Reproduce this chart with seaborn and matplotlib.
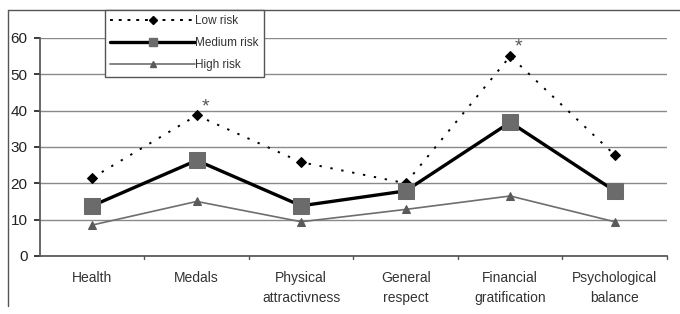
import matplotlib
matplotlib.use("Agg")
import matplotlib.pyplot as plt
import seaborn as sns
import pandas as pd
from matplotlib.lines import Line2D

categories = ["Health", "Medals", "Physical\nattractivness", "General\nrespect",
              "Financial\ngratification", "Psychological\nbalance"]
low_risk = [21.5, 38.7, 25.8, 20.0, 55.0, 27.8]
medium_risk = [13.8, 26.3, 13.8, 17.9, 36.8, 17.9]
high_risk = [8.5, 15.0, 9.4, 12.8, 16.5, 9.4]
series_names = ["Low risk", "Medium risk", "High risk"]
star_positions = [1, 4]
star_values = [41.0, 57.5]

sns.set_theme(style="white")
plt.rcParams['font.family'] = ['Liberation Sans', 'DejaVu Sans']

df = pd.DataFrame({
    "x": list(range(len(categories))) * 3,
    "value": low_risk + medium_risk + high_risk,
    "series": [series_names[0]] * 6 + [series_names[1]] * 6 + [series_names[2]] * 6,
})

fig = plt.figure(figsize=(6.8, 3.14), dpi=100)
ax = fig.add_axes([0.0588, 0.185, 0.922, 0.694])

styles = {
    "Low risk": dict(color="black", lw=1.4, ls=(0, (1.2, 4.5)), marker="D", ms=5,
                     mfc="black", mec="black"),
    "Medium risk": dict(color="black", lw=2.4, ls="-", marker="s", ms=11,
                        mfc="#6b6b6b", mec="#6b6b6b"),
    "High risk": dict(color="#6e6e6e", lw=1.2, ls="-", marker="^", ms=6,
                      mfc="#5a5a5a", mec="#5a5a5a"),
}
for name in series_names:
    sub = df[df["series"] == name]
    st = styles[name]
    sns.lineplot(data=sub, x="x", y="value", ax=ax, color=st["color"], lw=st["lw"],
                 linestyle=st["ls"], marker=st["marker"], markersize=st["ms"],
                 markerfacecolor=st["mfc"], markeredgecolor=st["mec"], label=name,
                 legend=False, zorder=3)

for xp, yv in zip(star_positions, star_values):
    ax.text(xp + 0.08, yv, "*", ha="center", va="center", fontsize=14, color="#555555")

ax.set_xlim(-0.5, 5.5)
ax.set_ylim(0, 60)
ax.set_yticks(range(0, 61, 10))
ax.set_xticks(range(len(categories)))
ax.set_xticklabels(categories, fontsize=10, color="#333333", linespacing=1.5)
ax.tick_params(axis="y", labelsize=11, colors="#222222", length=4, direction="out",
               left=True, pad=5)
ax.tick_params(axis="x", length=0, pad=11)
ax.set_xlabel("")
ax.set_ylabel("")
for b in [0.5, 1.5, 2.5, 3.5, 4.5, 5.5]:
    ax.plot([b, b], [0, -0.9], color="#555555", lw=1, clip_on=False)
ax.grid(axis="y", color="#8a8a8a", lw=1)
ax.set_axisbelow(True)
for s in ["top", "right"]:
    ax.spines[s].set_visible(False)
ax.spines["left"].set_color("#555555")
ax.spines["bottom"].set_color("#555555")

# outer frame
fig.add_artist(Line2D([8/680, 8/680], [1 - 10/314, 1 - 306/314], color="#555555", lw=1,
                      transform=fig.transFigure))
fig.add_artist(Line2D([8/680, 1.0], [1 - 10/314, 1 - 10/314], color="#555555", lw=1,
                      transform=fig.transFigure))

handles = [Line2D([], [], color=styles[n]["color"], lw=styles[n]["lw"],
                  ls=(0, (1.5, 3.0)) if n == "Low risk" else styles[n]["ls"],
                  marker=styles[n]["marker"],
                  ms=styles[n]["ms"] * (0.5 if n == "Medium risk" else 0.8),
                  mfc=styles[n]["mfc"], mec=styles[n]["mec"]) for n in series_names]
leg = fig.legend(handles, series_names, loc="upper left",
                 bbox_to_anchor=(105/680, 1 - 10/314), bbox_transform=fig.transFigure,
                 frameon=True, fancybox=False, fontsize=8.5, handlelength=7.2,
                 borderpad=0.45, labelspacing=0.85, handletextpad=0.0,
                 borderaxespad=0)
for t in leg.get_texts():
    t.set_color("#333333")
leg.get_frame().set_edgecolor("#555555")
leg.get_frame().set_linewidth(1)
leg.get_frame().set_facecolor("white")
leg.get_frame().set_alpha(1)
leg.set_zorder(10)

fig.savefig("out.png", dpi=100)
